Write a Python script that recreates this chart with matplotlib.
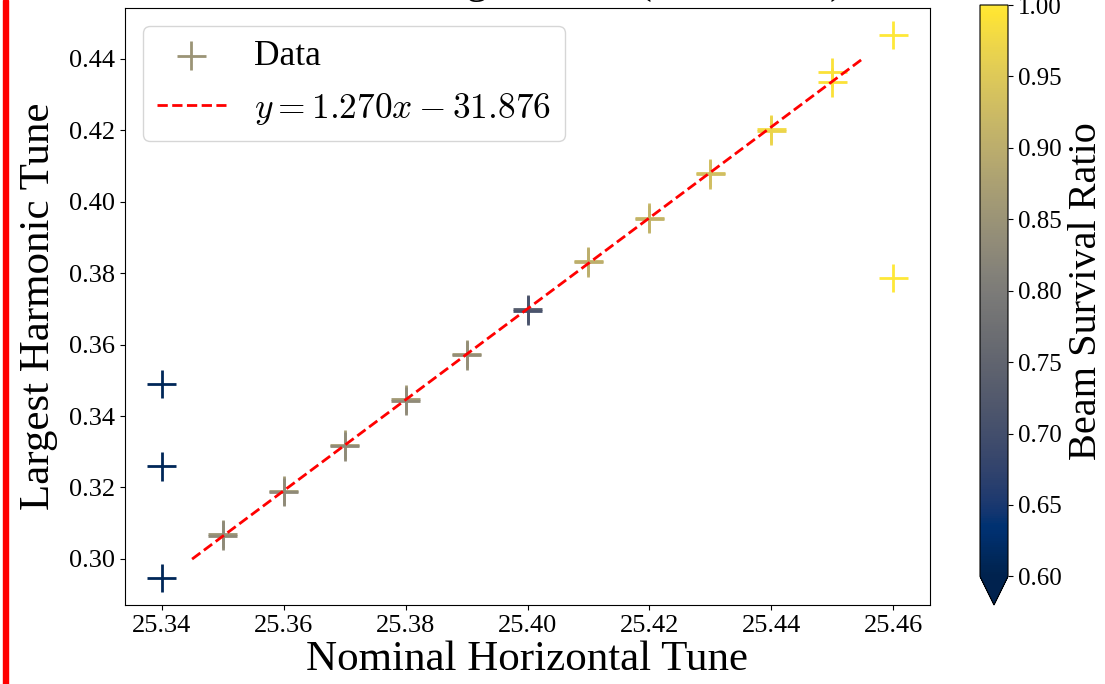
import numpy as np
import matplotlib
matplotlib.use("Agg")
import matplotlib.pyplot as plt
from matplotlib.patches import Rectangle

# ---- data ----
nominal_tune = [25.35, 25.35, 25.36, 25.36, 25.37, 25.37, 25.38, 25.38,
                25.39, 25.39, 25.40, 25.40, 25.41, 25.41, 25.42, 25.42,
                25.43, 25.43, 25.44, 25.44, 25.45, 25.45, 25.46, 25.46,
                25.34, 25.34, 25.34]
harmonic_tune = [0.3070, 0.3065, 0.3191, 0.3187, 0.3320, 0.3315, 0.3447, 0.3442,
                 0.3574, 0.3570, 0.3699, 0.3695, 0.3834, 0.3830, 0.3955, 0.3951,
                 0.4080, 0.4076, 0.4203, 0.4199, 0.4362, 0.4334, 0.4466, 0.3787,
                 0.2947, 0.3259, 0.3490]
survival = [0.85, 0.83, 0.86, 0.83, 0.87, 0.83, 0.86, 0.83,
            0.86, 0.84, 0.73, 0.71, 0.91, 0.90, 0.92, 0.91,
            0.94, 0.93, 0.98, 0.97, 0.99, 0.99, 1.00, 1.00,
            0.61, 0.61, 0.61]
fit_label = r"$y = 1.270x - 31.876$"
fit_range = [25.345, 25.455]
xticks = [25.34, 25.36, 25.38, 25.40, 25.42, 25.44, 25.46]
cbar_ticks = [0.60, 0.65, 0.70, 0.75, 0.80, 0.85, 0.90, 0.95, 1.00]

plt.rcParams['font.family'] = ['Liberation Serif', 'DejaVu Serif']
plt.rcParams['mathtext.fontset'] = 'cm'

W, H = 1105, 684
fig = plt.figure(figsize=(W / 100, H / 100), dpi=100)
ax = fig.add_axes([125 / W, 1 - 605 / H, (930 - 125) / W, (605 - 8) / H])
cax = fig.add_axes([980 / W, 1 - 605 / H, 28 / W, 600 / H])

x = np.array(nominal_tune)
y = np.array(harmonic_tune)
sc = ax.scatter(x, y, c=survival, cmap='cividis', vmin=0.6, vmax=1.0,
                marker='+', s=420, linewidths=2.0, label='Data')

# linear fit over the main branch
mask = (x > 25.345) & (x < 25.455) & (y > 0.30)
coef = np.polyfit(x[mask], y[mask], 1)
xf = np.linspace(fit_range[0], fit_range[1], 100)
ax.plot(xf, np.polyval(coef, xf), 'r--', lw=2.0, label=fit_label)

ax.set_xticks(xticks)
ax.set_xticklabels([f"{t:.2f}" for t in xticks])
ax.tick_params(labelsize=19)
ax.set_xlabel('Nominal Horizontal Tune', fontsize=31, labelpad=3)
ax.set_ylabel('Largest Harmonic Tune', fontsize=31, labelpad=8)
ax.legend(loc='upper left', fontsize=25.5, handlelength=1.95)

cb = fig.colorbar(sc, cax=cax, extend='min', ticks=cbar_ticks)
cb.ax.tick_params(labelsize=18)
cb.set_label('Beam Survival Ratio', fontsize=29, labelpad=5)

fig.text(0.5 * (125 + 930) / W, 1 + 7 / H, 'Tune Scan: Largest Tune (Horizontal)',
         ha='center', va='baseline', fontsize=30)

fig.patches.append(Rectangle((3 / W, 0), 5 / W, 1, transform=fig.transFigure,
                             color='red', zorder=10))

fig.savefig('out.png', dpi=100)
